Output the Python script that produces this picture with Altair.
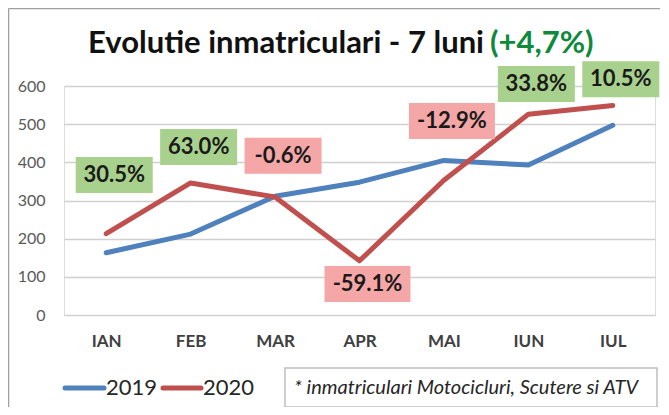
import altair as alt
import pandas as pd

months = ["IAN", "FEB", "MAR", "APR", "MAI", "IUN", "IUL"]
v2019 = [163, 212, 311, 348, 405, 393, 497]
v2020 = [213, 346, 309, 142, 353, 526, 549]
pct_labels = ["30.5%", "63.0%", "-0.6%", "-59.1%", "-12.9%", "33.8%", "10.5%"]
label_y = [367, 440, 417, 81, 508, 605, 618]  # annotation anchor (data units)
years = ["2019", "2020"]
y_ticks = [0, 100, 200, 300, 400, 500, 600]
title_main = "Evolutie inmatriculari - 7 luni"
title_change = "(+4,7%)"
note = "* inmatriculari Motocicluri, Scutere si ATV"

BLUE = "#4f81bd"
RED = "#c0504d"
GREEN_BOX = "#a9d18e"
PINK_BOX = "#f5a7a7"
FONT = "Lato"

lines_df = pd.DataFrame(
    [{"month": m, "year": years[0], "value": v} for m, v in zip(months, v2019)]
    + [{"month": m, "year": years[1], "value": v} for m, v in zip(months, v2020)]
)
labels_df = pd.DataFrame({
    "month": months,
    "label": pct_labels,
    "ly": label_y,
})
labels_df["sign"] = ["neg" if s.startswith("-") else "pos" for s in pct_labels]
labels_df["wide"] = [len(s) > 5 for s in pct_labels]

x_enc = alt.X(
    "month:N", sort=months,
    scale=alt.Scale(type="point", padding=0.5),
    axis=alt.Axis(title=None, labelAngle=0, domain=False, ticks=False, grid=False,
                  labelFont=FONT, labelFontWeight="bold", labelFontSize=17,
                  labelColor="#404040", labelPadding=18),
)
y_scale = alt.Scale(domain=[0, 600], nice=False)
y_axis = alt.Axis(values=y_ticks, title=None, domain=False, ticks=False,
                  labelFont=FONT, labelFontSize=16, labelColor="#595959",
                  labelPadding=19, gridColor="#d0d0d0", gridWidth=1.5)

lines = alt.Chart(lines_df).mark_line(strokeWidth=5, strokeCap="round", strokeJoin="round").encode(
    x=x_enc,
    y=alt.Y("value:Q", scale=y_scale, axis=y_axis),
    color=alt.Color("year:N", scale=alt.Scale(domain=years, range=[BLUE, RED]), legend=None),
)

box_fill = alt.condition("datum.sign == 'pos'", alt.value(GREEN_BOX), alt.value(PINK_BOX))
boxes_narrow = alt.Chart(labels_df).transform_filter("!datum.wide").mark_rect(
    width=77, height=36, xOffset=8
).encode(x=x_enc, y=alt.Y("ly:Q", scale=y_scale, axis=y_axis), fill=box_fill)
boxes_wide = alt.Chart(labels_df).transform_filter("datum.wide").mark_rect(
    width=86, height=36, xOffset=8
).encode(x=x_enc, y=alt.Y("ly:Q", scale=y_scale, axis=y_axis), fill=box_fill)
box_text = alt.Chart(labels_df).mark_text(
    font=FONT, fontSize=22, fontWeight="bold", color="#1a1a1a", xOffset=8, baseline="middle"
).encode(x=x_enc, y=alt.Y("ly:Q", scale=y_scale, axis=y_axis), text="label:N")

one = pd.DataFrame({"k": [0]})
base = alt.Chart(one)

# frame
frame_top = base.mark_rule(color="#a0a0a0", strokeWidth=1.5).encode(
    x=alt.value(-55.5), x2=alt.value(700), y=alt.value(-77.5))
frame_left = base.mark_rule(color="#a0a0a0", strokeWidth=1.5).encode(
    x=alt.value(-55.5), y=alt.value(-77.5), y2=alt.value(400))

# title
t1 = base.mark_text(text=title_main, font=FONT, fontSize=31, fontWeight="bold",
                    color="#111111", align="right", baseline="alphabetic").encode(
    x=alt.value(420), y=alt.value(-33))
t2 = base.mark_text(text=title_change, font=FONT, fontSize=31, fontWeight="bold",
                    color="#0f8a3c", align="left", baseline="alphabetic").encode(
    x=alt.value(426), y=alt.value(-33))

# legend
leg_blue = base.mark_rule(color=BLUE, strokeWidth=5, strokeCap="round").encode(
    x=alt.value(1), x2=alt.value(40), y=alt.value(302))
leg_red = base.mark_rule(color=RED, strokeWidth=5, strokeCap="round").encode(
    x=alt.value(99), x2=alt.value(137), y=alt.value(302))
leg_t1 = base.mark_text(text=years[0], font=FONT, fontSize=22, color="#262626",
                        align="left", baseline="middle").encode(x=alt.value(42), y=alt.value(302))
leg_t2 = base.mark_text(text=years[1], font=FONT, fontSize=22, color="#262626",
                        align="left", baseline="middle").encode(x=alt.value(139), y=alt.value(302))

# note box
note_box = base.mark_rect(fill="white", stroke="#bfbfbf", strokeWidth=1.5).encode(
    x=alt.value(221), x2=alt.value(593), y=alt.value(282), y2=alt.value(321))
note_text = base.mark_text(text=note, font=FONT, fontSize=20, fontStyle="italic",
                           color="#262626", align="left", baseline="middle").encode(
    x=alt.value(230), y=alt.value(302))

chart = alt.layer(
    lines, boxes_narrow, boxes_wide, box_text,
    frame_top, frame_left, t1, t2,
    leg_blue, leg_red, leg_t1, leg_t2, note_box, note_text,
).properties(
    width=591, height=229,
    autosize=alt.AutoSizeParams(type="none"),
    padding={"left": 56, "top": 78, "right": 5, "bottom": 92},
).configure_view(stroke=None).configure(background="white")

chart.save("out.html", embed_options={"renderer": "svg", "actions": False})
